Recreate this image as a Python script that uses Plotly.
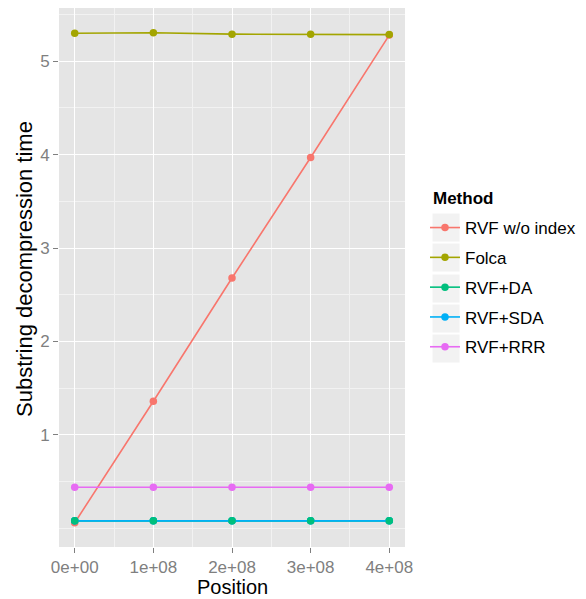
import plotly.graph_objects as go

positions = [0, 1e8, 2e8, 3e8, 4e8]
methods = ["RVF w/o index", "Folca", "RVF+DA", "RVF+SDA", "RVF+RRR"]
rvf_wo = [0.06, 1.36, 2.68, 3.97, 5.28]
folca = [5.30, 5.305, 5.29, 5.289, 5.285]
rvf_da = [0.08, 0.08, 0.08, 0.08, 0.08]
rvf_sda = [0.08, 0.08, 0.08, 0.08, 0.08]
rvf_rrr = [0.44, 0.44, 0.44, 0.44, 0.44]
series = [rvf_wo, folca, rvf_da, rvf_sda, rvf_rrr]
colors = ["#F8766D", "#A3A500", "#00BF7D", "#00B0F6", "#E76BF3"]
xtick_vals = [0, 1e8, 2e8, 3e8, 4e8]
xtick_text = ["0e+00", "1e+08", "2e+08", "3e+08", "4e+08"]
ytick_vals = [1, 2, 3, 4, 5]

W, H = 586, 599
L, R, T, B = 59, 181, 8, 52
pw, ph = W - L - R, H - T - B

fig = go.Figure()
for name, ys, c in zip(methods, series, colors):
    fig.add_trace(go.Scatter(
        x=positions, y=ys, name=name, mode="lines+markers",
        line=dict(color=c, width=1.6), marker=dict(color=c, size=7.5),
        legendgroup=name,
    ))
# DA points drawn on top (as in the reference)
fig.add_trace(go.Scatter(
    x=positions, y=rvf_da, mode="markers", showlegend=False,
    marker=dict(color=colors[2], size=7.5), hoverinfo="skip",
))

def px2paper_x(px):
    return (px - L) / pw

def px2paper_y(py):
    return (H - B - py) / ph

# legend key backgrounds
key_tops = [213, 243, 274, 304, 334]
for kt in key_tops:
    fig.add_shape(type="rect", xref="paper", yref="paper",
                  x0=px2paper_x(432), x1=px2paper_x(460),
                  y0=px2paper_y(kt + 29), y1=px2paper_y(kt),
                  fillcolor="#F2F2F2", line=dict(color="white", width=1),
                  layer="below")

fig.add_annotation(text="<b>Method</b>", xref="paper", yref="paper",
                   x=px2paper_x(431), y=px2paper_y(199), xanchor="left",
                   yanchor="middle", showarrow=False,
                   font=dict(size=17, color="black"))
fig.add_annotation(text="Substring decompression time", xref="paper", yref="paper",
                   x=px2paper_x(24), y=px2paper_y(269), xanchor="center",
                   yanchor="middle", showarrow=False, textangle=-90,
                   font=dict(size=22, color="black"))
fig.add_annotation(text="Position", xref="paper", yref="paper",
                   x=px2paper_x(232), y=px2paper_y(587), xanchor="center",
                   yanchor="middle", showarrow=False,
                   font=dict(size=20, color="black"))

font_family = "Liberation Sans, Arial, Helvetica, sans-serif"
fig.update_layout(
    width=W, height=H,
    margin=dict(l=L, r=R, t=T, b=B, autoexpand=False),
    paper_bgcolor="white", plot_bgcolor="#E5E5E5",
    font=dict(family=font_family, color="black", size=17),
    showlegend=True,
    legend=dict(
        x=px2paper_x(425), xanchor="left",
        y=px2paper_y(210), yanchor="top",
        font=dict(size=17), tracegroupgap=4.7,
        bgcolor="rgba(0,0,0,0)", itemwidth=30,
    ),
    xaxis=dict(
        range=[-0.2e8, 4.2e8], tickvals=xtick_vals, ticktext=xtick_text,
        showgrid=True, gridcolor="white", gridwidth=1.2, automargin=False,
        zeroline=False, ticks="outside", ticklen=5, tickcolor="#7F7F7F",
        tickfont=dict(color="#7F7F7F", size=17),
        minor=dict(dtick=0.5e8, tick0=0, showgrid=True, gridcolor="#F2F2F2", gridwidth=0.8),
    ),
    yaxis=dict(
        range=[-0.2, 5.57], tickvals=ytick_vals,
        showgrid=True, gridcolor="white", gridwidth=1.2, automargin=False,
        zeroline=False, ticks="outside", ticklen=5, tickcolor="#7F7F7F",
        tickfont=dict(color="#7F7F7F", size=17),
        minor=dict(dtick=0.5, tick0=0.5, showgrid=True, gridcolor="#F2F2F2", gridwidth=0.8),
    ),
)
fig.write_html("out.html")
